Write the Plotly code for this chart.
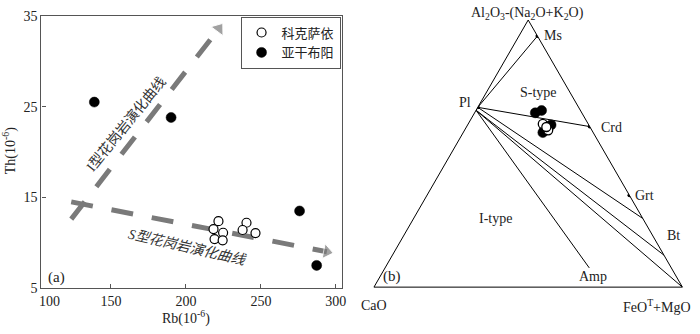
import plotly.graph_objects as go

# ---------------- Panel (a): Rb vs Th ----------------
kks_rb = [221.7, 218.4, 224.8, 219.1, 224.5, 240.4, 237.8, 246.4]
kks_th = [12.37, 11.5, 11.1, 10.4, 10.26, 12.2, 11.4, 11.06]
ygby_rb = [138.9, 190.1, 275.8, 287.2]
ygby_th = [25.5, 23.8, 13.5, 7.5]

i_curve_rb = [123.5, 222.0]
i_curve_th = [12.6, 33.6]
s_curve_rb = [123.5, 294.0]
s_curve_th = [14.5, 9.0]

x_tickvals = [150, 200, 250, 300]
y_tickvals = [5, 15, 25, 35]

# ---------------- Panel (b): ACF ternary ----------------
# a = Al2O3-(Na2O+K2O), b = CaO, c = FeOT+MgO
kks_a = [0.6108, 0.5868, 0.5994]
kks_b = [0.1473, 0.1418, 0.1415]
kks_c = [0.2419, 0.2714, 0.2591]
ygby_a = [0.6525, 0.6612, 0.6073, 0.5904, 0.5785]
ygby_b = [0.1508, 0.1260, 0.1222, 0.1523, 0.1633]
ygby_c = [0.1967, 0.2128, 0.2705, 0.2573, 0.2582]

mineral_names = ["Ms", "Pl", "Crd", "Grt"]
mineral_a = [0.94, 0.673, 0.601, 0.3435]
mineral_b = [0.0, 0.327, 0.0, 0.0]
mineral_c = [0.06, 0.0, 0.399, 0.6565]

# tie lines: (start, end) as (a, b, c)
tie_lines = [
    ((0.673, 0.327, 0.0), (0.94, 0.0, 0.06)),
    ((0.673, 0.327, 0.0), (0.601, 0.0, 0.399)),
    ((0.673, 0.327, 0.0), (0.257, 0.0, 0.743)),
    ((0.662, 0.338, 0.0), (0.1197, 0.0, 0.8803)),
    ((0.662, 0.338, 0.0), (0.0, 0.0, 1.0)),
    ((0.662, 0.338, 0.0), (0.0719, 0.266, 0.6621)),
]

SERIF = "Liberation Serif, Noto Sans CJK SC"
CJK = "Noto Sans CJK SC"
W, H = 700, 334


def px(x):
    return x / W


def py(y):
    return (H - y) / H


fig = go.Figure()

# curves (panel a)
for xs, ys in [(i_curve_rb, i_curve_th), (s_curve_rb, s_curve_th)]:
    fig.add_trace(go.Scatter(
        x=xs, y=ys, mode="lines+markers", showlegend=False, hoverinfo="skip",
        line=dict(color="#7a7a7a", width=5, dash="22px,19px"),
        marker=dict(symbol="triangle-up", size=[0, 13], color="#7a7a7a",
                    angleref="previous"),
        xaxis="x", yaxis="y"))

fig.add_trace(go.Scatter(
    x=kks_rb, y=kks_th, mode="markers", name="科克萨依", legendrank=1,
    marker=dict(symbol="circle", size=9, color="white",
                line=dict(color="black", width=1.2)),
    xaxis="x", yaxis="y"))
fig.add_trace(go.Scatter(
    x=ygby_rb, y=ygby_th, mode="markers", name="亚干布阳", legendrank=2,
    marker=dict(symbol="circle", size=10, color="black",
                line=dict(color="black", width=0.5)),
    xaxis="x", yaxis="y"))

# ternary (panel b)
for (s, e) in tie_lines:
    fig.add_trace(go.Scatterternary(
        a=[s[0], e[0]], b=[s[1], e[1]], c=[s[2], e[2]], mode="lines",
        line=dict(color="black", width=1), showlegend=False, hoverinfo="skip"))

fig.add_trace(go.Scatterternary(
    a=mineral_a, b=mineral_b, c=mineral_c, mode="markers", text=mineral_names,
    marker=dict(size=4, color="black"), showlegend=False))

fig.add_trace(go.Scatterternary(
    a=ygby_a, b=ygby_b, c=ygby_c, mode="markers", showlegend=False,
    marker=dict(size=10, color="black", line=dict(color="black", width=0.5))))
fig.add_trace(go.Scatterternary(
    a=kks_a, b=kks_b, c=kks_c, mode="markers", showlegend=False,
    marker=dict(size=9, color="white", line=dict(color="black", width=1.3))))

axis_common = dict(showline=True, mirror=True, linecolor="#555", linewidth=1.3,
                   ticks="inside", ticklen=4, tickcolor="#555", showgrid=False,
                   zeroline=False, tickfont=dict(family=SERIF, size=14, color="#222"))

tern_axis = dict(showticklabels=False, ticks="", showgrid=False, linecolor="black",
                 linewidth=1, title=dict(text=""))

annotations = [
    # panel a
    dict(x=px(50), y=py(308), text="100"),
    dict(x=px(187), y=py(325), text="Rb(10<sup>-6</sup>)"),
    dict(x=px(9), y=py(150), text="Th(10<sup>-6</sup>)", textangle=-90),
    dict(x=px(57), y=py(283), text="(a)", font=dict(family=SERIF, size=15, color="#222")),
    dict(x=px(127), y=py(123), text="I型花岗岩演化曲线", textangle=-51,
         font=dict(family=SERIF, size=14, color="#333")),
    dict(x=px(189), y=py(252), text="S型花岗岩演化曲线", textangle=13,
         font=dict(family=SERIF, size=14, color="#333", style="italic")),
    # panel b
    dict(x=px(531.7), y=py(7), text="Al<sub>2</sub>O<sub>3</sub>-(Na<sub>2</sub>O+K<sub>2</sub>O)"),
    dict(x=px(376.7), y=py(313), text="CaO"),
    dict(x=px(698), y=py(313), text="FeO<sup>T</sup>+MgO", xanchor="right"),
    dict(x=px(557.3), y=py(30), text="Ms"),
    dict(x=px(468.3), y=py(99.5), text="Pl"),
    dict(x=px(542.7), y=py(90), text="S-type"),
    dict(x=px(616), y=py(126.5), text="Crd"),
    dict(x=px(649.5), y=py(197.5), text="Grt"),
    dict(x=px(678.3), y=py(239.5), text="Bt"),
    dict(x=px(499.3), y=py(221), text="I-type"),
    dict(x=px(597.3), y=py(282.5), text="Amp"),
    dict(x=px(395), y=py(282.5), text="(b)", font=dict(family=SERIF, size=15, color="#222")),
]
for a in annotations:
    a.setdefault("xref", "paper")
    a.setdefault("yref", "paper")
    a.setdefault("showarrow", False)
    a.setdefault("xanchor", "center")
    a.setdefault("yanchor", "middle")
    a.setdefault("font", dict(family=SERIF, size=14, color="#222"))

fig.update_layout(
    width=W, height=H, autosize=False,
    margin=dict(l=0, r=0, t=0, b=0),
    paper_bgcolor="white", plot_bgcolor="white",
    xaxis=dict(domain=[px(41.7), px(344)], range=[103.6, 303.8],
               tickvals=x_tickvals, anchor="y", **axis_common),
    yaxis=dict(domain=[py(294.3), py(9.3)], range=[5, 35],
               tickvals=y_tickvals, anchor="x", **axis_common),
    ternary=dict(domain=dict(x=[px(370.5), px(693.5)], y=[py(293.3), py(13.6)]),
                 sum=1, bgcolor="white",
                 aaxis=tern_axis, baxis=tern_axis, caxis=tern_axis),
    legend=dict(x=px(343), xanchor="right", y=py(10), yanchor="top",
                bgcolor="white", bordercolor="#555", borderwidth=1,
                font=dict(family=CJK, size=13, color="#222"),
                itemwidth=30, tracegroupgap=0),
    annotations=annotations,
    showlegend=True,
)

post = (
    "document.documentElement.style.margin='0';"
    "document.documentElement.style.overflow='hidden';"
    "document.body.style.margin='0';document.body.style.padding='0';"
    "document.body.style.overflow='hidden';"
    "var gd=document.getElementById('{plot_id}');"
    "gd.style.position='fixed';gd.style.left='0px';gd.style.top='0px';"
    "var vw=window.innerWidth||700, vh=window.innerHeight||334;"
    "gd.style.width=vw+'px';gd.style.height=vh+'px';"
    "Plotly.relayout(gd,{width:vw,height:vh});"
)
fig.write_html("out.html", config={"displayModeBar": False}, post_script=post)
